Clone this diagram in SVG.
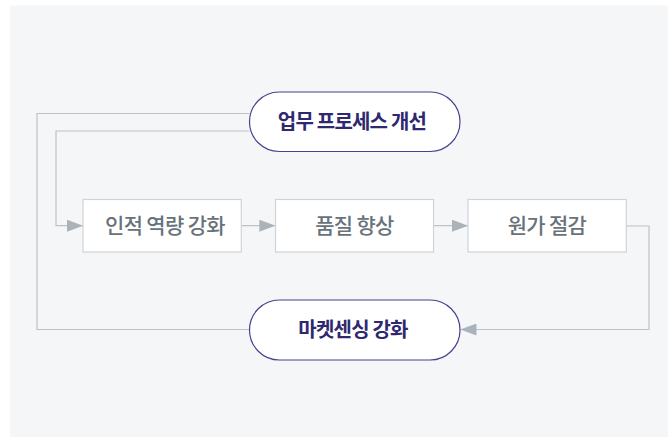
<svg xmlns="http://www.w3.org/2000/svg" width="668" height="437" viewBox="0 0 668 437">
<defs>
<style>
.box{fill:#ffffff;stroke:#cfd4d8;stroke-width:1.2}
.pill{fill:#ffffff;stroke:#4b3f8f;stroke-width:1.2}
.bt{font-family:"Noto Sans CJK KR","Noto Sans",sans-serif;font-size:21px;font-weight:500;letter-spacing:-0.7px;fill:#68727b;text-anchor:middle}
.pt{font-family:"Noto Sans CJK KR","Noto Sans",sans-serif;font-size:20px;letter-spacing:-0.8px;font-weight:bold;fill:#2e2870;text-anchor:middle}
.ln{fill:none;stroke:#bcc2c7;stroke-width:1.2}
</style>
<marker id="ah" viewBox="0 0 16 12" refX="16" refY="6" markerWidth="16" markerHeight="12" markerUnits="userSpaceOnUse" orient="auto">
<path d="M0,0 L16,6 L0,12 Z" fill="#aab3ba"/>
</marker>
</defs>
<rect x="10" y="5.5" width="658" height="431.5" fill="#f5f6f8"/>
<g id="connectors">
<path class="ln" d="M249.5,113.5 H37 V329.5 H249.5"/>
<path class="ln" d="M249.5,131 H56 V225.7 H83" marker-end="url(#ah)"/>
<path class="ln" d="M241.3,225.7 H275.3" marker-end="url(#ah)"/>
<path class="ln" d="M433.5,225.7 H468" marker-end="url(#ah)"/>
<path class="ln" d="M626.3,226 H649 V329.5 H460.5" marker-end="url(#ah)"/>
</g>
<g id="n-process">
<rect class="pill" x="249.5" y="92" width="210.5" height="59.5" rx="29.75"/>
<text class="pt" x="352" y="129">업무 프로세스 개선</text>
</g>
<g id="n-people">
<rect class="box" x="83" y="199.5" width="158.3" height="52.5"/>
<text class="bt" x="165" y="233">인적 역량 강화</text>
</g>
<g id="n-quality">
<rect class="box" x="275.5" y="199.5" width="158" height="52.5"/>
<text class="bt" x="354.5" y="233">품질 향상</text>
</g>
<g id="n-cost">
<rect class="box" x="468" y="199.5" width="158.3" height="52.5"/>
<text class="bt" x="547" y="233">원가 절감</text>
</g>
<g id="n-marketing">
<rect class="pill" x="249.5" y="300" width="210.5" height="60" rx="30"/>
<text class="pt" x="353" y="337">마켓센싱 강화</text>
</g>
</svg>
